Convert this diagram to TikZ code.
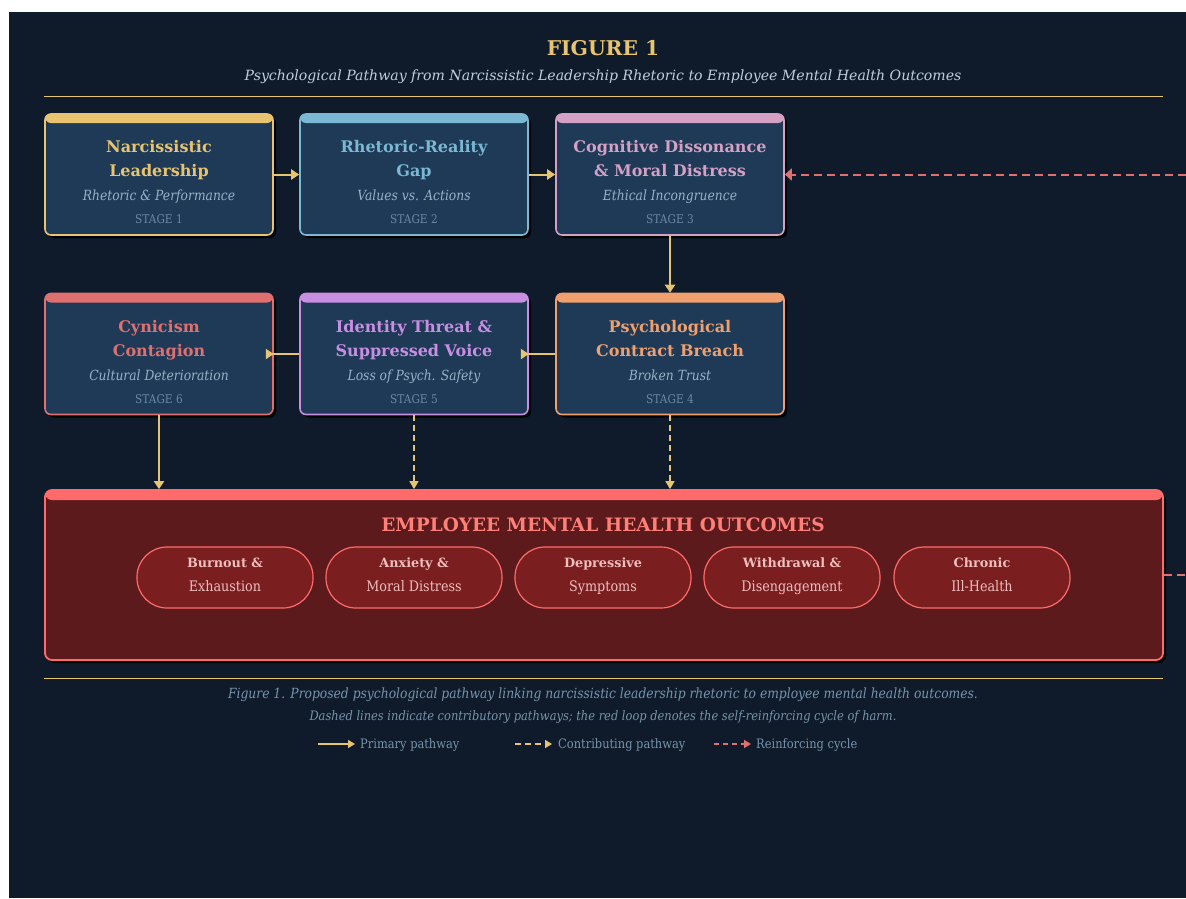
\documentclass[tikz,border=0pt]{standalone}
\usepackage{fontspec}
\setmainfont{DejaVu Serif}
\newfontfamily\condfont[FakeStretch=0.88]{DejaVu Serif}
\usetikzlibrary{arrows.meta,positioning,shadows}
\definecolor{bgnavy}{RGB}{15,27,42}
\definecolor{boxfill}{RGB}{30,58,86}
\definecolor{gold}{RGB}{232,196,112}
\definecolor{skyblue}{RGB}{122,184,212}
\definecolor{mauve}{RGB}{212,160,196}
\definecolor{coral}{RGB}{224,112,112}
\definecolor{lilac}{RGB}{200,142,226}
\definecolor{peach}{RGB}{240,160,110}
\definecolor{headtxt}{RGB}{190,206,222}
\definecolor{subtxt}{RGB}{150,178,200}
\definecolor{stagetxt}{RGB}{106,136,164}
\definecolor{captxt}{RGB}{118,148,172}
\definecolor{outfill}{RGB}{92,26,28}
\definecolor{outred}{RGB}{255,107,107}
\definecolor{pillfill}{RGB}{122,30,32}
\definecolor{pilltxt}{RGB}{240,190,188}
\definecolor{outtitle}{RGB}{255,128,120}
\tikzset{
  stagebox/.style={rectangle,rounded corners=6pt,draw=#1,line width=1.6pt,fill=boxfill,
    minimum width=228pt,minimum height=121pt,inner sep=0pt,
    drop shadow={shadow xshift=3pt,shadow yshift=-3pt,opacity=1,fill=black},
    path picture={\fill[#1] (path picture bounding box.north west)
      rectangle ([yshift=-9pt]path picture bounding box.north east);}},
  outbox/.style={rectangle,rounded corners=7pt,draw=outred,line width=1.8pt,fill=outfill,
    minimum width=1118pt,minimum height=170pt,
    drop shadow={shadow xshift=3pt,shadow yshift=-3pt,opacity=1,fill=black},
    path picture={\fill[outred] (path picture bounding box.north west)
      rectangle ([yshift=-10pt]path picture bounding box.north east);}},
  pill/.style={rectangle,rounded corners=30pt,draw=outred,line width=1.2pt,fill=pillfill,
    minimum width=176pt,minimum height=61pt,align=center,text=pilltxt,
    font=\fontsize{12.8}{24}\selectfont},
  flowarrow/.style={-{Triangle[length=8pt,width=10pt]},line width=2pt,draw=gold},
  backarrow/.style={-{Triangle[reversed,length=8pt,width=10pt]},line width=2pt,draw=gold,
    shorten >=-8pt},
  contribarrow/.style={-{Triangle[length=8pt,width=9pt]},line width=1.5pt,draw=gold,
    dash pattern=on 6pt off 4pt},
  cyclearrow/.style={-{Triangle[length=7pt,width=12pt]},line width=2pt,draw=coral,
    dash pattern=on 8pt off 5pt},
  rulerline/.style={draw=gold,line width=0.9pt},
  captext/.style={anchor=base,text=captxt,font=\condfont\itshape\fontsize{14}{17}\selectfont},
  legendtext/.style={anchor=base west,inner xsep=0pt,text=captxt,
    font=\condfont\fontsize{13}{15}\selectfont}
}
\newcommand{\stagetext}[4]{\parbox{224pt}{\centering\vspace*{15pt}
  {\color{#1}\bfseries\fontsize{16}{24}\selectfont #2\par}
  {\color{subtxt}\condfont\itshape\fontsize{14}{24}\selectfont #3\par}
  {\color{stagetxt}\condfont\fontsize{12}{23}\selectfont #4\par}}}
\newcommand{\pillstrut}{\rule[-9pt]{0pt}{21pt}}

\begin{document}
\begin{tikzpicture}[x=1pt,y=-1pt]
  \useasboundingbox (0,0) rectangle (1186,898);
  \fill[white] (0,0) rectangle (1186,898);
  \fill[bgnavy] (9,12) rectangle (1186,898);
  % heading
  \node[anchor=base,text=gold,font=\bfseries\fontsize{20.3}{25}\selectfont] (fig) at (603,55) {FIGURE 1};
  \node[anchor=base,text=headtxt,font=\itshape\fontsize{14.1}{17}\selectfont] (figsub) at (603,80)
    {Psychological Pathway from Narcissistic Leadership Rhetoric to Employee Mental Health Outcomes};
  \coordinate (ruleAl) at (44,96);
  \coordinate (ruleAr) at (1163,96);
  \draw[rulerline] (ruleAl) -- (ruleAr);
  % stages
  \node[stagebox=gold] (lead) at (159,174.5)
    {\stagetext{gold}{Narcissistic\\Leadership}{Rhetoric \& Performance}{STAGE 1}};
  \node[stagebox=skyblue] (gap) at (414,174.5)
    {\stagetext{skyblue}{Rhetoric-Reality\\Gap}{Values vs. Actions}{STAGE 2}};
  \node[stagebox=mauve] (cog) at (670,174.5)
    {\stagetext{mauve}{Cognitive Dissonance\\\& Moral Distress}{Ethical Incongruence}{STAGE 3}};
  \node[stagebox=peach] (breach) at (670,354)
    {\stagetext{peach}{Psychological\\Contract Breach}{Broken Trust}{STAGE 4}};
  \node[stagebox=lilac] (ident) at (414,354)
    {\stagetext{lilac}{Identity Threat \&\\Suppressed Voice}{Loss of Psych. Safety}{STAGE 5}};
  \node[stagebox=coral] (cyn) at (159,354)
    {\stagetext{coral}{Cynicism\\Contagion}{Cultural Deterioration}{STAGE 6}};
  % outcomes
  \node[outbox] (outc) at (604,575) {};
  \node[anchor=base,text=outtitle,font=\bfseries\fontsize{18.5}{22}\selectfont] (outctitle) at (603,531)
    {EMPLOYEE MENTAL HEALTH OUTCOMES};
  \node[pill] (burn) at (225,577.5)
    {\pillstrut\textbf{Burnout \&}\\\pillstrut{\condfont\fontsize{14.5}{24}\selectfont Exhaustion}};
  \node[pill] (anx) at (414,577.5)
    {\pillstrut\textbf{Anxiety \&}\\\pillstrut{\condfont\fontsize{14.5}{24}\selectfont Moral Distress}};
  \node[pill] (depr) at (603,577.5)
    {\pillstrut\textbf{Depressive}\\\pillstrut{\condfont\fontsize{14.5}{24}\selectfont Symptoms}};
  \node[pill] (withd) at (792,577.5)
    {\pillstrut\textbf{Withdrawal \&}\\\pillstrut{\condfont\fontsize{14.5}{24}\selectfont Disengagement}};
  \node[pill] (chron) at (982,577.5)
    {\pillstrut\textbf{Chronic}\\\pillstrut{\condfont\fontsize{14.5}{24}\selectfont Ill-Health}};
  % pathways
  \draw[flowarrow] (lead) -- (gap);
  \draw[flowarrow] (gap) -- (cog);
  \draw[flowarrow] (cog) -- (breach);
  \draw[backarrow] (breach) -- (ident);
  \draw[backarrow] (ident) -- (cyn);
  \draw[flowarrow] (cyn.south) -- (cyn.south |- outc.north);
  \draw[contribarrow] (ident.south) -- (ident.south |- outc.north);
  \draw[contribarrow] (breach.south) -- (breach.south |- outc.north);
  \draw[cyclearrow] (outc.east) -- ++(45,0) |- (cog.east);
  % caption and legend
  \coordinate (ruleBl) at (44,678);
  \coordinate (ruleBr) at (1163,678);
  \draw[rulerline] (ruleBl) -- (ruleBr);
  \node[captext] (capA) at (603,698)
    {Figure 1. Proposed psychological pathway linking narcissistic leadership rhetoric to employee mental health outcomes.};
  \node[captext,font=\condfont\itshape\fontsize{13}{16}\selectfont] (capB) at (603,720)
    {Dashed lines indicate contributory pathways; the red loop denotes the self-reinforcing cycle of harm.};
  \coordinate (lgA) at (318,744);
  \coordinate (lgAe) at (355,744);
  \coordinate (lgB) at (515,744);
  \coordinate (lgBe) at (552,744);
  \coordinate (lgC) at (714,744);
  \coordinate (lgCe) at (751,744);
  \draw[flowarrow,line width=1.5pt,-{Triangle[length=7pt,width=8pt]}] (lgA) -- (lgAe);
  \draw[contribarrow,-{Triangle[length=7pt,width=8pt]}] (lgB) -- (lgBe);
  \draw[cyclearrow,line width=1.5pt,dash pattern=on 5pt off 4pt,-{Triangle[length=7pt,width=8pt]}] (lgC) -- (lgCe);
  \node[legendtext] (lgAt) at (360,748) {Primary pathway};
  \node[legendtext] (lgBt) at (558,748) {Contributing pathway};
  \node[legendtext] (lgCt) at (756,748) {Reinforcing cycle};
\end{tikzpicture}
\end{document}
